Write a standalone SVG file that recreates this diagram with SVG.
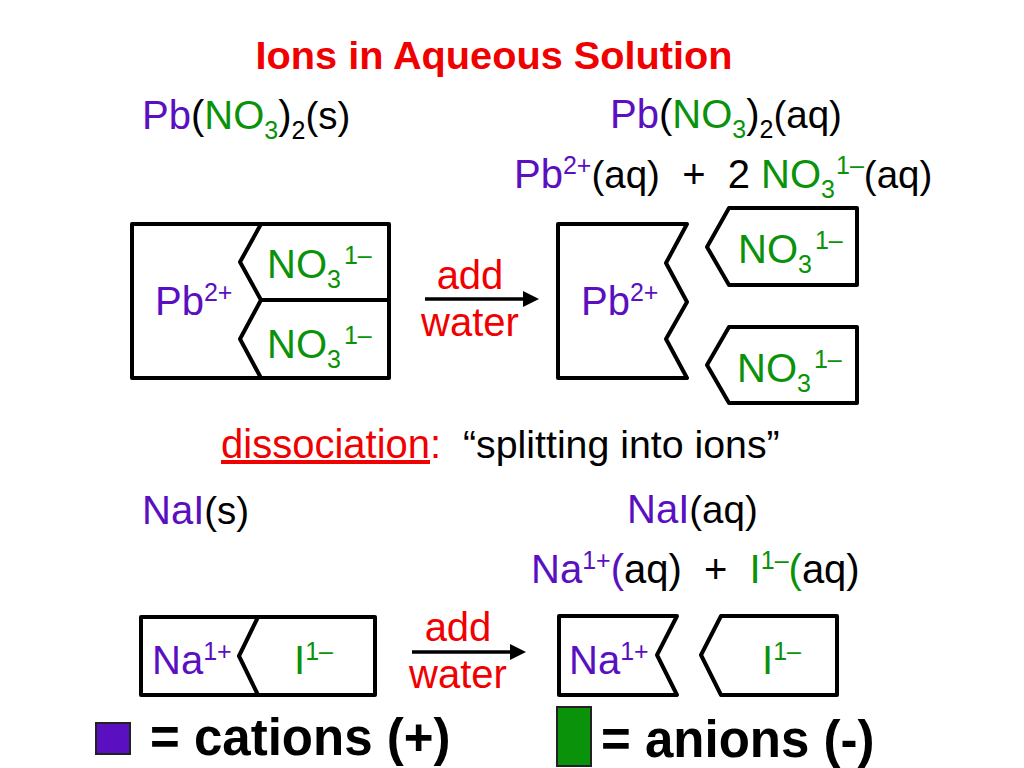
<svg xmlns="http://www.w3.org/2000/svg" width="1024" height="768" viewBox="0 0 1024 768">
<style>
text{font-family:"Liberation Sans",Arial,sans-serif;font-size:40px;fill:#000;white-space:pre}
.p{fill:#5a0fc0}.g{fill:#0a920a}.r{fill:#f00000}
.sup{font-size:25px}.q{font-size:38.5px}.b{font-weight:bold}.big{font-size:51px;font-weight:bold}
.s{fill:none;stroke:#000;stroke-width:4;stroke-linejoin:round;stroke-linecap:round}
.a{fill:none;stroke:#000;stroke-width:3.5}
</style>
<defs><marker id="ah" markerUnits="userSpaceOnUse" markerWidth="16" markerHeight="16" refX="8" refY="8" orient="auto"><path d="M0 0L16 8L0 16Z" fill="#000"/></marker></defs>
<rect width="1024" height="768" fill="#fff"/>
<text id="title" x="494" y="69" text-anchor="middle" class="b r" style="font-size:39.7px">Ions in Aqueous Solution</text>
<g id="formulas">
<text x="142" y="129"><tspan class="p">Pb</tspan>(<tspan class="g">NO</tspan><tspan class="g sup" dy="10">3</tspan><tspan dy="-10">)</tspan><tspan class="sup" dy="10">2</tspan><tspan class="q" dy="-10">(s)</tspan></text>
<text x="610" y="128"><tspan class="p">Pb</tspan>(<tspan class="g">NO</tspan><tspan class="g sup" dy="10">3</tspan><tspan dy="-10">)</tspan><tspan class="sup" dy="10">2</tspan><tspan class="q" dy="-10">(aq)</tspan></text>
<text x="514" y="188"><tspan class="p">Pb</tspan><tspan class="p sup" dy="-14">2+</tspan><tspan class="q" dy="14">(aq)</tspan><tspan>  +  2 </tspan><tspan class="g">NO</tspan><tspan class="g sup" dy="10">3</tspan><tspan class="g sup" dy="-24" dx="1">1–</tspan><tspan class="q" dy="14">(aq)</tspan></text>
<text x="221" y="458"><tspan class="r" text-decoration="underline">dissociation</tspan><tspan class="r">:</tspan><tspan x="463" style="font-size:39.3px">“splitting into ions”</tspan></text>
<text x="142" y="524"><tspan class="p">NaI</tspan><tspan class="q">(s)</tspan></text>
<text x="627" y="523"><tspan class="p">NaI</tspan><tspan class="q">(aq)</tspan></text>
<text x="531" y="583"><tspan class="p">Na</tspan><tspan class="p sup" dy="-14">1+</tspan><tspan class="p" dy="14">(</tspan>aq)  +  <tspan class="g">I</tspan><tspan class="g sup" dy="-14">1–</tspan><tspan class="g" dy="14">(</tspan>aq)</text>
</g>
<g id="connectors">
<path class="a" marker-end="url(#ah)" d="M425 299H531"/>
<path class="a" marker-end="url(#ah)" d="M412 652H518"/>
</g>
<g id="pbno3-solid">
<path class="s" d="M132 224H389V378H132ZM261 224L240 262L261 300L240 339L261 378M261 300H389"/>
<text x="155" y="315" class="p">Pb<tspan class="sup" dy="-14">2+</tspan></text>
<text x="267" y="278" class="g">NO<tspan class="sup" dy="10">3</tspan><tspan class="sup" dy="-24" dx="3">1–</tspan></text>
<text x="267" y="358" class="g">NO<tspan class="sup" dy="10">3</tspan><tspan class="sup" dy="-24" dx="3">1–</tspan></text>
</g>
<g id="water-1"><text x="470" y="289" text-anchor="middle" class="r">add</text><text x="470" y="336" text-anchor="middle" class="r">water</text></g>
<g id="pb-ion">
<path class="s" d="M558 224H687L666 263L687 302L666 339L687 378H558Z"/>
<text x="581" y="315" class="p">Pb<tspan class="sup" dy="-14">2+</tspan></text>
</g>
<g id="no3-ion-1">
<path class="s" d="M729 208H857V285H729L707 247Z"/>
<text x="738" y="263" class="g">NO<tspan class="sup" dy="10">3</tspan><tspan class="sup" dy="-24" dx="3">1–</tspan></text>
</g>
<g id="no3-ion-2">
<path class="s" d="M729 327H857V403H729L707 365Z"/>
<text x="737" y="382" class="g">NO<tspan class="sup" dy="10">3</tspan><tspan class="sup" dy="-24" dx="3">1–</tspan></text>
</g>
<g id="nai-solid">
<path class="s" d="M141 617H375V695H141ZM258 617L239 656L258 695"/>
<text x="152" y="674" class="p">Na<tspan class="sup" dy="-14">1+</tspan></text>
<text x="294" y="674" class="g">I<tspan class="sup" dy="-14">1–</tspan></text>
</g>
<g id="water-2"><text x="458" y="641" text-anchor="middle" class="r">add</text><text x="458" y="688" text-anchor="middle" class="r">water</text></g>
<g id="na-ion">
<path class="s" d="M559 616H677L657 655L677 695H559Z"/>
<text x="569" y="674" class="p">Na<tspan class="sup" dy="-14">1+</tspan></text>
</g>
<g id="i-ion">
<path class="s" d="M721 616H837V695H721L701 655Z"/>
<text x="762" y="674" class="g">I<tspan class="sup" dy="-14">1–</tspan></text>
</g>
<g id="legend-cation">
<rect x="96" y="723" width="34" height="31" fill="#5a0fc0" stroke="#222" stroke-width="2"/>
<text x="150" y="755" class="big">= cations (+)</text>
</g>
<g id="legend-anion">
<rect x="557" y="707" width="34" height="59" fill="#0a920a" stroke="#222" stroke-width="2"/>
<text x="601" y="757" class="big">= anions (-)</text>
</g>
</svg>
